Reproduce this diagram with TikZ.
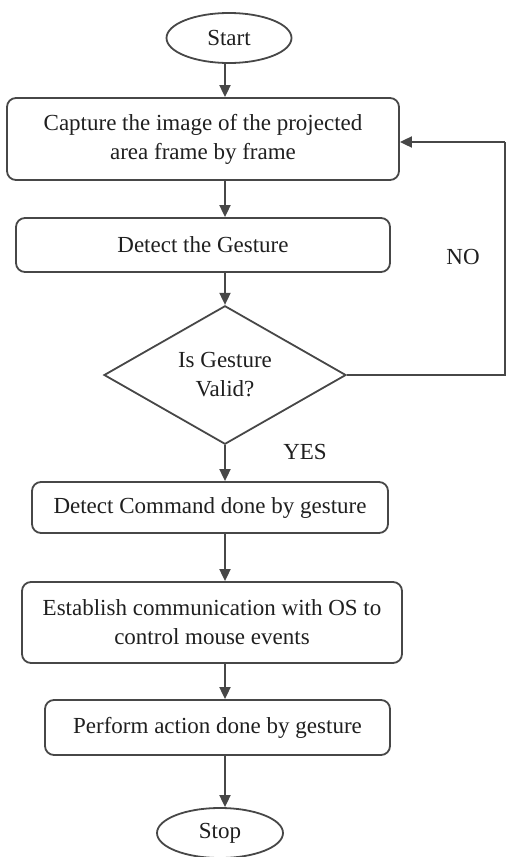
\documentclass[tikz,border=0pt]{standalone}
\usepackage{fontspec}
\setmainfont{Liberation Serif}
\usetikzlibrary{shapes.geometric,arrows.meta}
\begin{document}
\begin{tikzpicture}[x=1pt,y=-1pt,
  line/.style={draw=black!72,line width=1.8pt},
  flow/.style={line,-{Triangle[length=12pt,width=11pt]}},
  txt/.style={font=\fontsize{23}{29}\selectfont,text=black!88},
  stepbox/.style={line,txt,rounded corners=9pt,align=center,inner sep=0pt},
  term/.style={line,txt,ellipse,inner sep=0pt},
  cond/.style={line,txt,diamond,inner sep=0pt,align=center}]
\useasboundingbox (0,0) rectangle (507,857);
% process chain
\node[term,minimum width=125pt,minimum height=50pt] (start) at (229,38) {Start};
\node[stepbox,minimum width=392pt,minimum height=82pt] (cap) at (203,139) {Capture the image of the projected\\area frame by frame};
\node[stepbox,minimum width=374pt,minimum height=54pt] (det) at (203,245) {Detect the Gesture};
\node[cond,minimum width=242pt,minimum height=127pt] (valid) at (225,375) {Is Gesture\\Valid?};
\node[stepbox,minimum width=356pt,minimum height=51pt] (cmd) at (210,507.5) {Detect Command done by gesture};
\node[stepbox,minimum width=380pt,minimum height=81pt] (os) at (212,622.5) {Establish communication with OS to\\control mouse events};
\node[stepbox,minimum width=345pt,minimum height=55pt] (act) at (217.5,727.5) {Perform action done by gesture};
\node[term,minimum width=126pt,minimum height=50pt] (stop) at (220,833) {Stop};
% branch labels
\node[txt] (no) at (463,257) {NO};
\node[txt] (yes) at (305,452) {YES};
% loop-back corners
\coordinate (cornerlow) at (505,375);
\coordinate (cornerhigh) at (505,142);
% main spine at the x of the decision
\draw[flow] (start.south -| valid.north) -- (cap.north -| valid.north);
\draw[flow] (cap.south -| valid.north) -- (det.north -| valid.north);
\draw[flow] (det.south -| valid.north) -- (valid.north);
\draw[flow] (valid.south) -- (cmd.north -| valid.south);
\draw[flow] (cmd.south -| valid.south) -- (os.north -| valid.south);
\draw[flow] (os.south -| valid.south) -- (act.north -| valid.south);
\draw[flow] (act.south -| valid.south) -- (stop.north -| valid.south);
% NO branch back to capture
\draw[line] (valid.east) -- (cornerlow) -- (cornerhigh);
\draw[flow] (cornerhigh) -- (cap.east |- cornerhigh);
\end{tikzpicture}
\end{document}
